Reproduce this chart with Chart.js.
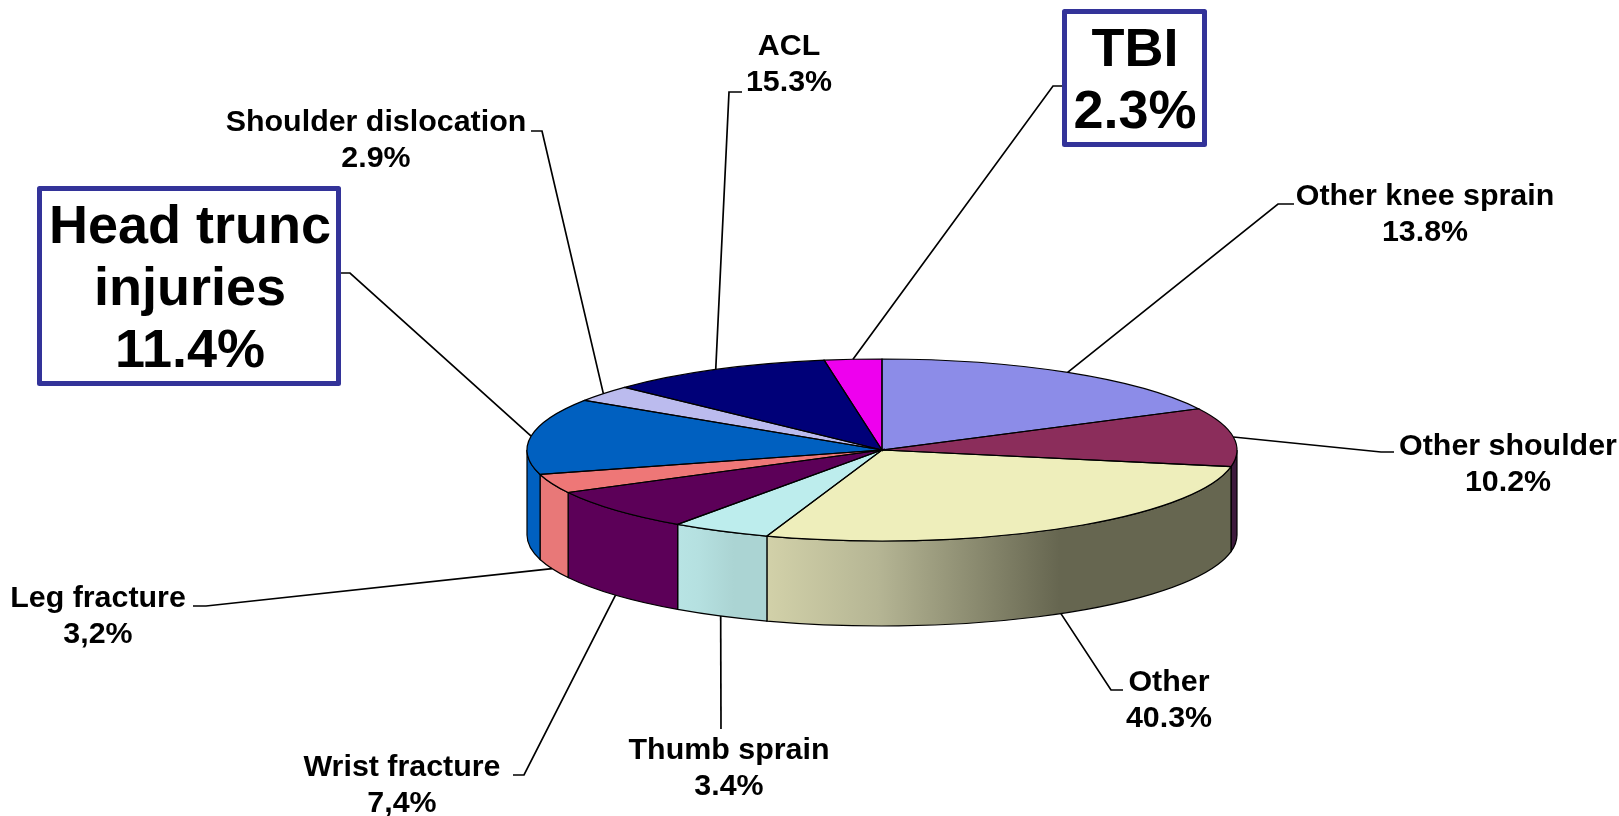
<!DOCTYPE html>
<html>
<head>
<meta charset="utf-8">
<style>
  html, body { margin: 0; background: #fff; }
  canvas { display: block; }
</style>
</head>
<body>
<canvas id="lesoes" width="1619" height="816"></canvas>
<script src="https://cdn.jsdelivr.net/npm/chart.js@4"></script>
<script>
// slice sizes as drawn in the picture (the printed percentages do not add up to 100)
const categories = ["Other knee sprain", "Other shoulder", "Other", "Thumb sprain", "Wrist fracture",
  "Leg fracture", "Head trunc injuries", "Shoulder dislocation", "ACL", "TBI"];
const sliceValues = [17.5, 10.4, 27.3, 4.5, 7.5, 3.4, 13.5, 2.9, 10.3, 2.6];
const printedValues = ["13.8%", "10.2%", "40.3%", "3.4%", "7,4%", "3,2%", "11.4%", "2.9%", "15.3%", "2.3%"];

const topColors = ["#8c8ce8", "#8b2d5b", "#eeeebb", "#bdeded", "#5c0058", "#ee7777", "#0060c0", "#bbbbee", "#000078", "#ee00ee"];
// rim colours: left side, a quarter of the way, and from 63% on to the right
const wallColors = [["#8c8ce8", "#8c8ce8", "#8c8ce8"], ["#3d1a3d", "#3d1a3d", "#3d1a3d"], ["#d2d1a9", "#b5b594", "#666650"],
  ["#b8e4e4", "#b5e0e0", "#abd4d3"], ["#5c0058", "#5c0058", "#5c0058"], ["#e87878", "#e87878", "#e87878"],
  ["#0060c0", "#0060c0", "#0060c0"], ["#bbbbee", "#bbbbee", "#bbbbee"], ["#000078", "#000078", "#000078"], ["#ee00ee", "#ee00ee", "#ee00ee"]];

// layout of the labels: line centre x, first baseline, then tail and elbow of the leader
const labelLayout = [
  { x: 1425, y: 205, tail: [1294, 204], elbow: [1278, 204] },
  { x: 1508, y: 455, tail: [1394, 452], elbow: [1381, 452] },
  { x: 1169, y: 691, tail: [1123, 690], elbow: [1111, 690] },
  { x: 729, y: 759, elbow: [721, 729] },
  { x: 402, y: 776, tail: [513, 775], elbow: [524, 775] },
  { x: 98, y: 607, tail: [193, 606], elbow: [206, 606] },
  { x: 190, y: 243, tail: [341, 273], elbow: [350, 273], box: [39.5, 188.5, 299, 195], big: true, lines: ["Head trunc", "injuries"] },
  { x: 376, y: 131, tail: [531, 131], elbow: [542, 131] },
  { x: 789, y: 55, tail: [742, 92], elbow: [729, 92] },
  { x: 1135, y: 66, tail: [1062, 86], elbow: [1053, 86], box: [1064.5, 11.5, 140, 133], big: true, lines: ["TBI"] }
];

const squash = 91 / 355; // tilt of the pie
const depth = 85;

function norm(a) {
  // canvas angle into 0..2pi
  const t = Math.PI * 2;
  return ((a % t) + t) % t;
}

const pie3d = {
  id: "pie3d",
  beforeDatasetsDraw(chart) {
    const ctx = chart.ctx;
    const arcs = chart.getDatasetMeta(0).data;
    ctx.save();
    arcs.forEach((arc, i) => {
      const rx = arc.outerRadius, ry = rx * squash;
      let a = norm(arc.startAngle), b = a + (arc.endAngle - arc.startAngle);
      // only the front half of the rim can be seen
      if (a > Math.PI) { if (b > Math.PI * 2) { a = 0; b = b - Math.PI * 2; } else return; }
      b = Math.min(b, Math.PI);
      const x0 = arc.x + rx * Math.cos(b), x1 = arc.x + rx * Math.cos(a);
      const grad = ctx.createLinearGradient(x0, 0, x1, 0);
      grad.addColorStop(0, wallColors[i][0]);
      grad.addColorStop(0.24, wallColors[i][1]);
      grad.addColorStop(0.63, wallColors[i][2]);
      grad.addColorStop(1, wallColors[i][2]);
      ctx.beginPath();
      ctx.ellipse(arc.x, arc.y, rx, ry, 0, a, b);
      ctx.lineTo(x0, arc.y + ry * Math.sin(b) + depth);
      ctx.ellipse(arc.x, arc.y + depth, rx, ry, 0, b, a, true);
      ctx.closePath();
      ctx.fillStyle = grad;
      ctx.fill();
      ctx.strokeStyle = "#000";
      ctx.lineWidth = 1.2;
      ctx.stroke();
    });
    ctx.restore();
    // the slices themselves get drawn flattened
    const first = arcs[0];
    ctx.save();
    ctx.translate(first.x, first.y);
    ctx.scale(1, squash);
    ctx.translate(-first.x, -first.y);
  },
  afterDatasetsDraw(chart) {
    const ctx = chart.ctx;
    ctx.restore();
    const arcs = chart.getDatasetMeta(0).data;
    ctx.save();
    ctx.strokeStyle = "#000";
    ctx.lineWidth = 1.2;
    arcs.forEach(arc => {
      ctx.beginPath();
      ctx.moveTo(arc.x, arc.y);
      ctx.ellipse(arc.x, arc.y, arc.outerRadius, arc.outerRadius * squash, 0, arc.startAngle, arc.endAngle);
      ctx.closePath();
      ctx.stroke();
    });
    // leaders start from the middle of each slice
    ctx.lineWidth = 1.7;
    arcs.forEach((arc, i) => {
      const mid = (arc.startAngle + arc.endAngle) / 2;
      const rx = arc.outerRadius;
      let py = arc.y + rx * squash * Math.sin(mid);
      if (norm(mid) > 0.2 && norm(mid) < Math.PI) py += depth;
      const l = labelLayout[i];
      ctx.beginPath();
      ctx.moveTo(arc.x + rx * Math.cos(mid), py);
      ctx.lineTo(l.elbow[0], l.elbow[1]);
      if (l.tail) ctx.lineTo(l.tail[0], l.tail[1]);
      ctx.stroke();
    });
    // texts
    ctx.fillStyle = "#000";
    ctx.textAlign = "center";
    ctx.textBaseline = "alphabetic";
    categories.forEach((name, i) => {
      const l = labelLayout[i];
      if (l.box) {
        ctx.strokeStyle = "#333399";
        ctx.lineWidth = 5;
        ctx.lineJoin = "round";
        ctx.strokeRect(l.box[0], l.box[1], l.box[2], l.box[3]);
      }
      ctx.font = "bold " + (l.big ? 54 : 30.4) + "px 'Liberation Sans', Arial, sans-serif";
      const lines = (l.lines || [name]).concat(printedValues[i]);
      lines.forEach((t, k) => ctx.fillText(t, l.x, l.y + k * (l.big ? 62 : 36)));
    });
    ctx.restore();
  }
};

new Chart(document.getElementById("lesoes"), {
  type: "pie",
  data: {
    labels: categories,
    datasets: [{
      data: sliceValues,
      backgroundColor: topColors,
      borderWidth: 0
    }]
  },
  options: {
    responsive: false,
    animation: false,
    events: [],
    layout: { padding: { left: 527, right: 382, top: 95, bottom: 11 } },
    plugins: { legend: { display: false }, tooltip: { enabled: false } }
  },
  plugins: [pie3d]
});
</script>
</body>
</html>
